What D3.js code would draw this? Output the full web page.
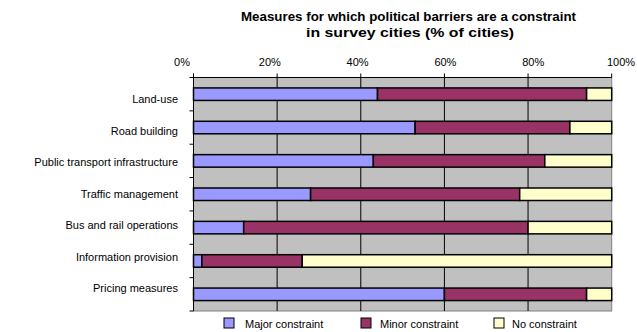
<!DOCTYPE html>
<html><head><meta charset="utf-8">
<script src="https://cdn.jsdelivr.net/npm/d3@7/dist/d3.min.js"></script>
<style>body{margin:0;background:#fff;}svg{display:block;}</style>
</head><body>
<svg id="c" width="637" height="332"></svg>
<script>
const categories = ["Land-use","Road building","Public transport infrastructure","Traffic management","Bus and rail operations","Information provision","Pricing measures"];
const seriesNames = ["Major constraint","Minor constraint","No constraint"];
const major = [44, 53, 43, 28, 12, 2, 60];
const minor = [50, 37, 41, 50, 68, 24, 34];
const none  = [6, 10, 16, 22, 20, 74, 6];
const tickValues = [0, 20, 40, 60, 80, 100];
const colors = ["#9999FF", "#993366", "#FFFFCC"];

const svg = d3.select("#c");
const font = "'Liberation Sans', Arial, sans-serif";
const L = 193.5, R = 611.7, T = 77.5, B = 311;

const x = d3.scaleLinear().domain([0, 100]).range([L, R]);
const xLab = d3.scaleLinear().domain([0, 100]).range([182, 621]);
const y = d3.scaleBand().domain(categories).range([T, B]).paddingInner(0.625).paddingOuter(0.3125);
const row = d3.scaleBand().domain(categories).range([T, B]);
const yLab = d3.scalePoint().domain(categories).range([103, 292]);

// title
const tfont = "'Liberation Sans Narrow', 'Arial Narrow', 'Liberation Sans', sans-serif";
svg.append("text").attr("x", 408.5).attr("y", 21).attr("text-anchor", "middle")
  .attr("textLength", 335).attr("lengthAdjust", "spacingAndGlyphs")
  .style("font-family", tfont).style("font-weight", "bold").style("font-size", "13px")
  .text("Measures for which political barriers are a constraint");
svg.append("text").attr("x", 410).attr("y", 37).attr("text-anchor", "middle")
  .attr("textLength", 208).attr("lengthAdjust", "spacingAndGlyphs")
  .style("font-family", tfont).style("font-weight", "bold").style("font-size", "13px")
  .text("in survey cities (% of cities)");

// plot area
svg.append("rect").attr("x", L).attr("y", T).attr("width", R - L).attr("height", B - T)
  .attr("fill", "#C0C0C0").attr("stroke", "#808080").attr("stroke-width", 1);

// gridlines
svg.append("g").selectAll("line").data(tickValues.slice(1, -1)).join("line")
  .attr("x1", d => x(d)).attr("x2", d => x(d)).attr("y1", T).attr("y2", B)
  .attr("stroke", "#000").attr("stroke-width", 1);

// top axis line and ticks
svg.append("line").attr("x1", L).attr("x2", R).attr("y1", T).attr("y2", T).attr("stroke", "#000");
svg.append("g").selectAll("line").data(tickValues).join("line")
  .attr("x1", d => x(d)).attr("x2", d => x(d)).attr("y1", T - 4).attr("y2", T)
  .attr("stroke", "#000");

// tick labels
svg.append("g").selectAll("text").data(tickValues).join("text")
  .attr("x", d => xLab(d)).attr("y", 66).attr("text-anchor", "middle")
  .style("font-family", font).style("font-size", "11px").text(d => d + "%");

// stacked bars
const data = categories.map((c, i) => ({cat: c, v: [major[i], minor[i], none[i]]}));
const g = svg.append("g");
data.forEach(d => {
  let acc = 0;
  d.v.forEach((v, k) => {
    g.append("rect").attr("x", x(acc)).attr("y", y(d.cat)).attr("width", x(acc + v) - x(acc)).attr("height", y.bandwidth())
      .attr("fill", colors[k]).attr("stroke", "#000").attr("stroke-width", 1.5);
    acc += v;
  });
});

// left axis
svg.append("line").attr("x1", L).attr("x2", L).attr("y1", T - 4).attr("y2", B).attr("stroke", "#000").attr("stroke-width", 1);
const bounds = categories.map(c => row(c)).concat([B]);
svg.append("g").selectAll("line").data(bounds).join("line")
  .attr("x1", L - 4).attr("x2", L).attr("y1", d => d).attr("y2", d => d).attr("stroke", "#000");

// category labels
svg.append("g").selectAll("text").data(categories).join("text")
  .attr("x", 178).attr("y", d => yLab(d)).attr("text-anchor", "end")
  .style("font-family", font).style("font-size", "11px").text(d => d);

// legend
const legX = [224, 361, 494];
const legT = [245, 380, 512];
const lg = svg.append("g");
seriesNames.forEach((s, i) => {
  lg.append("rect").attr("x", legX[i]).attr("y", 318).attr("width", 10).attr("height", 10)
    .attr("fill", colors[i]).attr("stroke", "#000").attr("stroke-width", 1);
  lg.append("text").attr("x", legT[i]).attr("y", 327.5)
    .style("font-family", font).style("font-size", "11px").text(s);
});
</script>
</body></html>
